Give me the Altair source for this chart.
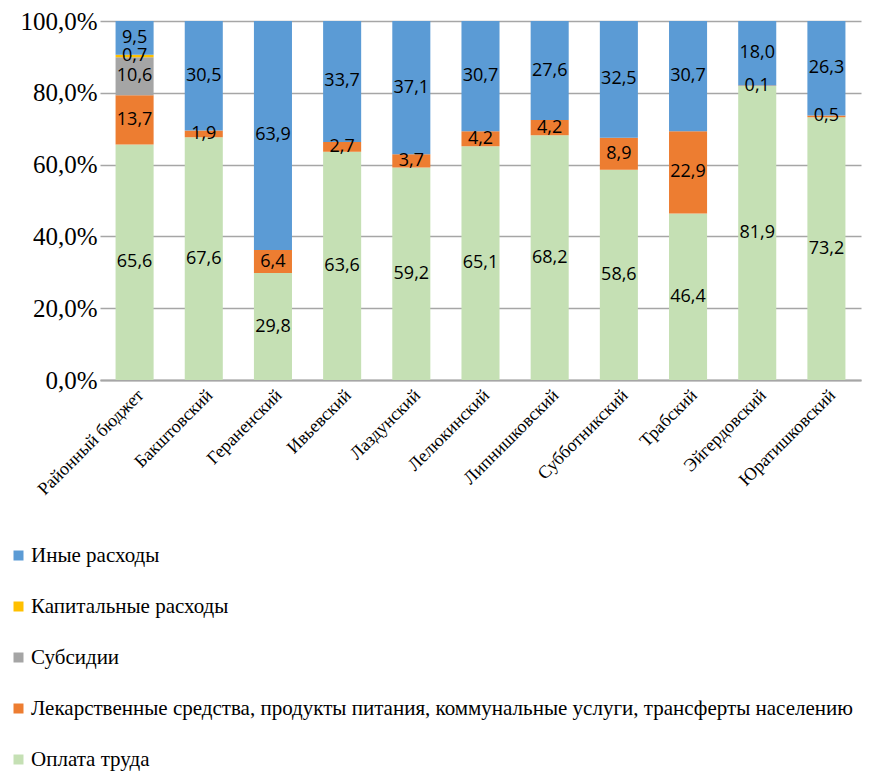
import altair as alt
import pandas as pd

categories = ["Районный  бюджет", "Бакштовский", "Гераненский", "Ивьевский", "Лаздунский",
              "Лелюкинский", "Липнишковский", "Субботникский", "Трабский", "Эйгердовский",
              "Юратишковский"]

series = ["Оплата труда",
          "Лекарственные средства, продукты питания, коммунальные услуги, трансферты населению",
          "Субсидии", "Капитальные расходы", "Иные расходы"]

pay = [65.6, 67.6, 29.8, 63.6, 59.2, 65.1, 68.2, 58.6, 46.4, 81.9, 73.2]
meds = [13.7, 1.9, 6.4, 2.7, 3.7, 4.2, 4.2, 8.9, 22.9, 0.1, 0.5]
subs = [10.6, 0, 0, 0, 0, 0, 0, 0, 0, 0, 0]
capital = [0.7, 0, 0, 0, 0, 0, 0, 0, 0, 0, 0]
other = [9.5, 30.5, 63.9, 33.7, 37.1, 30.7, 27.6, 32.5, 30.7, 18.0, 26.3]

legend_order = [series[4], series[3], series[2], series[1], series[0]]
colors = ["#5B9BD5", "#FFC000", "#A5A5A5", "#ED7D31", "#C5E0B4"]

SERIF = "Liberation Serif"

rows = []
for vals, (k, s) in zip([pay, meds, subs, capital, other], enumerate(series)):
    for c, v in zip(categories, vals):
        rows.append({"cat": c, "series": s, "ord": k, "value": v,
                     "label": f"{v:.1f}".replace(".", ",")})
df = pd.DataFrame(rows)

base = alt.Chart(df).transform_stack(
    stack="value", groupby=["cat"], as_=["y0", "y1"],
    sort=[alt.SortField("ord", order="ascending")]
).transform_calculate(mid="(datum.y0 + datum.y1) / 2")

xenc = alt.X("cat:N", sort=categories, title=None,
             scale=alt.Scale(paddingInner=0.45, paddingOuter=0.225),
             axis=alt.Axis(labelAngle=-45, labelFont=SERIF, labelFontSize=18,
                           labelColor="#000000", ticks=False, domainColor="#A6A6A6",
                           domainWidth=2, labelPadding=6, labelLimit=300))

yscale = alt.Scale(domain=[0, 100], clamp=True, nice=False)

bars = base.mark_bar().encode(
    x=xenc,
    y=alt.Y("y0:Q", scale=yscale, title=None,
            axis=alt.Axis(values=[0, 20, 40, 60, 80, 100],
                          labelExpr="replace(format(datum.value, '.1f'), '.', ',') + '%'",
                          labelFont=SERIF, labelFontSize=25, labelColor="#000000",
                          ticks=False, domain=False, grid=True, gridColor="#A6A6A6",
                          gridWidth=1.5, labelPadding=3)),
    y2="y1:Q",
    color=alt.Color("series:N", scale=alt.Scale(domain=legend_order, range=colors),
                    legend=alt.Legend(title=None, orient="none", direction="vertical",
                                      legendX=-92, legendY=524, symbolType="square",
                                      symbolSize=100, symbolStrokeWidth=0,
                                      labelFont=SERIF, labelFontSize=21,
                                      labelColor="#000000", labelLimit=900,
                                      rowPadding=29, labelOffset=2)),
)

texts = base.transform_filter("datum.value > 0").mark_text(
    font="Open Sans", fontSize=18, color="#000000", baseline="middle", align="center"
).encode(
    x=alt.X("cat:N", sort=categories),
    y=alt.Y("mid:Q", scale=yscale),
    text="label:N",
)

chart = alt.layer(bars, texts).properties(
    width=761, height=359,
    autosize=alt.AutoSizeParams(type="none"),
    padding={"left": 92, "top": 13, "right": 16, "bottom": 392},
).configure_view(stroke=None)

chart.save("out.html", embed_options={"renderer": "svg", "actions": False})
